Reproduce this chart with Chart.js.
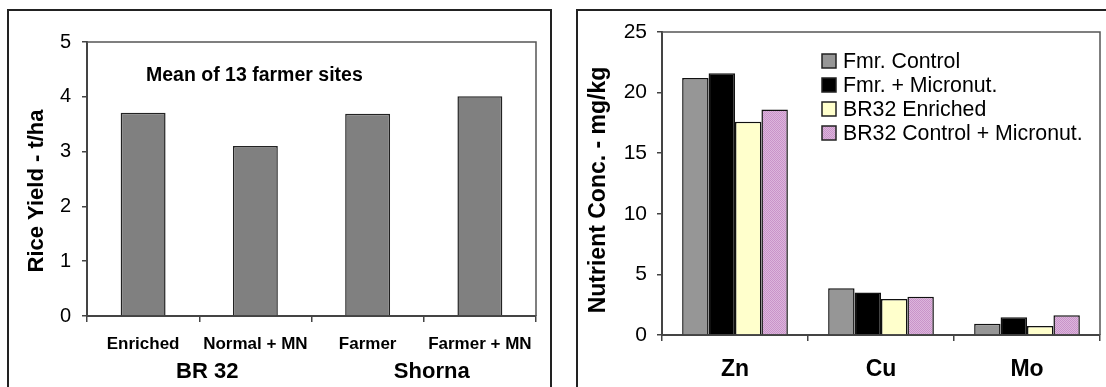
<!DOCTYPE html>
<html>
<head>
<meta charset="utf-8">
<script src="https://cdn.jsdelivr.net/npm/chart.js@4.4.1/dist/chart.umd.min.js"></script>
<style>
  html, body { margin: 0; padding: 0; background: #fff; overflow: hidden; }
  canvas { position: absolute; top: 0; }
  #yieldChart { left: 0; }
  #nutrientChart { left: 555px; }
</style>
</head>
<body>
<canvas id="yieldChart" width="555" height="387"></canvas>
<canvas id="nutrientChart" width="551" height="387"></canvas>
<script>
// Left chart: rice yield
const yieldCategories = ['Enriched', 'Normal + MN', 'Farmer', 'Farmer + MN'];
const yieldValues = [3.71, 3.10, 3.69, 4.01];
const varietyGroups = ['BR 32', 'Shorna'];
const yieldTicks = [0, 1, 2, 3, 4, 5];

// Right chart: nutrient concentration
const nutrients = ['Zn', 'Cu', 'Mo'];
const fmrControl = [21.2, 3.85, 0.92];
const fmrMicronut = [21.6, 3.5, 1.46];
const br32Enriched = [17.6, 2.97, 0.74];
const br32ControlMicronut = [18.6, 3.16, 1.62];
const seriesNames = ['Fmr. Control', 'Fmr. + Micronut.', 'BR32 Enriched', 'BR32 Control + Micronut.'];
const nutrientTicks = [0, 5, 10, 15, 20, 25];

Chart.defaults.font.family = "'Liberation Sans', Arial, sans-serif";
Chart.defaults.color = '#000';
Chart.defaults.animation = false;

const axisColor = '#444';

// dotted pink fill like the original
function pinkPattern(ctx) {
  const c = document.createElement('canvas');
  c.width = 2; c.height = 2;
  const p = c.getContext('2d');
  p.fillStyle = '#c993c9';
  p.fillRect(0, 0, 2, 2);
  p.fillStyle = '#dcb6dc';
  p.fillRect(0, 0, 1, 1);
  p.fillRect(1, 1, 1, 1);
  return ctx.createPattern(c, 'repeat');
}

function frame(chart, box) {
  const ctx = chart.ctx;
  const { left, right, top, bottom } = chart.chartArea;
  ctx.save();
  // panel border
  ctx.strokeStyle = '#222';
  ctx.lineWidth = 2;
  ctx.strokeRect(box[0], box[1], box[2], box[3]);
  // plot area top + right edges
  ctx.strokeStyle = '#555';
  ctx.lineWidth = 1.5;
  ctx.beginPath();
  ctx.moveTo(left, top);
  ctx.lineTo(right, top);
  ctx.lineTo(right, bottom);
  ctx.stroke();
  ctx.restore();
}

const yieldDecor = {
  id: 'yieldDecor',
  afterDraw(chart) {
    frame(chart, [8, 10, 543, 420]);
    const ctx = chart.ctx;
    const x = chart.scales.x;
    const { left, top, bottom } = chart.chartArea;
    ctx.save();
    ctx.fillStyle = '#000';
    ctx.textBaseline = 'middle';
    // annotation
    ctx.font = "bold 19.5px 'Liberation Sans', Arial";
    ctx.textAlign = 'left';
    ctx.fillText('Mean of 13 farmer sites', left + 59, top + 34);
    // group labels under category pairs
    ctx.font = "bold 22px 'Liberation Sans', Arial";
    ctx.textAlign = 'center';
    varietyGroups.forEach((g, i) => {
      const cx = (x.getPixelForValue(i * 2) + x.getPixelForValue(i * 2 + 1)) / 2 + 8;
      ctx.fillText(g, cx, bottom + 56);
    });
    // y title
    ctx.translate(37, 191);
    ctx.rotate(-Math.PI / 2);
    ctx.fillText('Rice Yield - t/ha', 0, 0);
    ctx.restore();
  }
};

new Chart(document.getElementById('yieldChart'), {
  type: 'bar',
  data: {
    labels: yieldCategories,
    datasets: [{
      data: yieldValues,
      backgroundColor: '#808080',
      borderColor: '#222',
      borderWidth: 1.5,
      categoryPercentage: 1,
      barPercentage: 0.4
    }]
  },
  options: {
    responsive: false,
    layout: { padding: { left: 0, top: 42, right: 19, bottom: 0 } },
    plugins: { legend: { display: false }, tooltip: { enabled: false } },
    scales: {
      x: {
        grid: { offset: true, drawOnChartArea: false, tickLength: 6, color: axisColor, lineWidth: 1.5 },
        border: { color: axisColor, width: 2 },
        ticks: { font: { size: 17, weight: 'bold' }, padding: 12 },
        afterFit(s) { s.height = 71; }
      },
      y: {
        min: 0,
        max: 5,
        afterBuildTicks(s) { s.ticks = yieldTicks.map(v => ({ value: v })); },
        grid: { drawOnChartArea: false, tickLength: 5, color: axisColor, lineWidth: 1.5 },
        border: { color: axisColor, width: 2 },
        ticks: { font: { size: 20 }, padding: 11 },
        afterFit(s) { s.width = 87; }
      }
    }
  },
  plugins: [yieldDecor]
});

const nutrientDecor = {
  id: 'nutrientDecor',
  afterDraw(chart) {
    frame(chart, [22, 10, 600, 420]);
    const ctx = chart.ctx;
    ctx.save();
    // legend inside plot area
    ctx.font = "21.3px 'Liberation Sans', Arial";
    ctx.textBaseline = 'middle';
    ctx.textAlign = 'left';
    chart.data.datasets.forEach((ds, i) => {
      const y = 61 + i * 24;
      ctx.fillStyle = ds.backgroundColor;
      ctx.fillRect(267, y - 7, 14, 14);
      ctx.strokeStyle = '#222';
      ctx.lineWidth = 1.5;
      ctx.strokeRect(267, y - 7, 14, 14);
      ctx.fillStyle = '#000';
      ctx.fillText(ds.label, 288, y + 1);
    });
    // y title
    ctx.font = "bold 23px 'Liberation Sans', Arial";
    ctx.textAlign = 'center';
    ctx.translate(44, 190);
    ctx.rotate(-Math.PI / 2);
    ctx.fillText('Nutrient Conc. - mg/kg', 0, 0);
    ctx.restore();
  }
};

const nctx = document.getElementById('nutrientChart').getContext('2d');
const seriesValues = [fmrControl, fmrMicronut, br32Enriched, br32ControlMicronut];
const seriesColors = ['#969696', '#000000', '#ffffcc', pinkPattern(nctx)];

new Chart(nctx, {
  type: 'bar',
  data: {
    labels: nutrients,
    datasets: seriesValues.map((vals, i) => ({
      label: seriesNames[i],
      data: vals,
      backgroundColor: seriesColors[i],
      borderColor: '#111',
      borderWidth: 1.5,
      categoryPercentage: 0.724,
      barPercentage: 1
    }))
  },
  options: {
    responsive: false,
    layout: { padding: { left: 0, top: 32, right: 6, bottom: 0 } },
    plugins: { legend: { display: false }, tooltip: { enabled: false } },
    scales: {
      x: {
        grid: { offset: true, drawOnChartArea: false, tickLength: 6, color: axisColor, lineWidth: 1.5 },
        border: { color: axisColor, width: 2 },
        ticks: { font: { size: 23, weight: 'bold' }, padding: 15 },
        afterFit(s) { s.height = 52; }
      },
      y: {
        min: 0,
        max: 25,
        afterBuildTicks(s) { s.ticks = nutrientTicks.map(v => ({ value: v })); },
        grid: { drawOnChartArea: false, tickLength: 5, color: axisColor, lineWidth: 1.5 },
        border: { color: axisColor, width: 2 },
        ticks: { font: { size: 21 }, padding: 10 },
        afterFit(s) { s.width = 107; }
      }
    }
  },
  plugins: [nutrientDecor]
});
</script>
</body>
</html>
